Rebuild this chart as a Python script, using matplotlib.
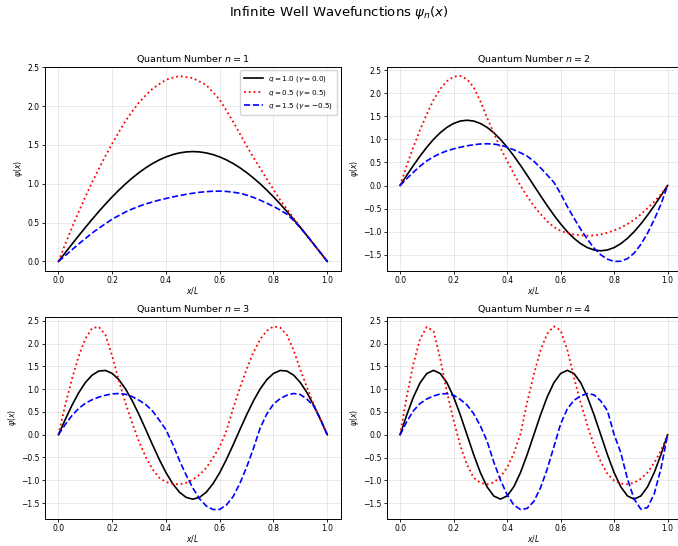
import numpy as np
import matplotlib
matplotlib.use('Agg')
import matplotlib.pyplot as plt

# sample positions along the well (x/L)
x_grid = np.linspace(0.0, 1.0, 41)

quantum_numbers = [1, 2, 3, 4]
legend_labels = [r'$q = 1.0$ ($\gamma = 0.0$)',
                 r'$q = 0.5$ ($\gamma = 0.5$)',
                 r'$q = 1.5$ ($\gamma = -0.5$)']

# q = 1.0 (undeformed)
black_n1 = [0, .1110, .2212, .3301, .4370, .5412, .6420, .7389, .8313, .9185, 1.0,
            1.0754, 1.1441, 1.2058, 1.2601, 1.3066, 1.3450, 1.3751, 1.3968, 1.4099, 1.4142,
            1.4099, 1.3968, 1.3751, 1.3450, 1.3066, 1.2601, 1.2058, 1.1441, 1.0754, 1.0,
            .9185, .8313, .7389, .6420, .5412, .4370, .3301, .2212, .1110, 0]
black_n2 = [0, .2212, .4370, .6420, .8313, 1.0, 1.1441, 1.2601, 1.3450, 1.3968, 1.4142,
            1.3968, 1.3450, 1.2601, 1.1441, 1.0, .8313, .6420, .4370, .2212, 0,
            -.2212, -.4370, -.6420, -.8313, -1.0, -1.1441, -1.2601, -1.3450, -1.3968, -1.4142,
            -1.3968, -1.3450, -1.2601, -1.1441, -1.0, -.8313, -.6420, -.4370, -.2212, 0]
black_n3 = [0, .3301, .6420, .9185, 1.1441, 1.3066, 1.3968, 1.4099, 1.3450, 1.2058, 1.0,
            .7389, .4370, .1110, -.2212, -.5412, -.8313, -1.0754, -1.2601, -1.3751, -1.4142,
            -1.3751, -1.2601, -1.0754, -.8313, -.5412, -.2212, .1110, .4370, .7389, 1.0,
            1.2058, 1.3450, 1.4099, 1.3968, 1.3066, 1.1441, .9185, .6420, .3301, 0]
black_n4 = [0, .4370, .8313, 1.1441, 1.3450, 1.4142, 1.3450, 1.1441, .8313, .4370, 0,
            -.4370, -.8313, -1.1441, -1.3450, -1.4142, -1.3450, -1.1441, -.8313, -.4370, 0,
            .4370, .8313, 1.1441, 1.3450, 1.4142, 1.3450, 1.1441, .8313, .4370, 0,
            -.4370, -.8313, -1.1441, -1.3450, -1.4142, -1.3450, -1.1441, -.8313, -.4370, 0]

# q = 0.5 (gamma = 0.5)
red_n1 = [0, .221, .434, .637, .830, 1.017, 1.190, 1.359, 1.517, 1.667, 1.811,
          1.934, 2.048, 2.138, 2.223, 2.282, 2.339, 2.364, 2.387, 2.373, 2.360,
          2.315, 2.270, 2.177, 2.082, 1.942, 1.797, 1.643, 1.487, 1.340, 1.201,
          1.062, .925, .790, .673, .557, .441, .327, .215, .107, 0]
red_n2 = [0, .437, .840, 1.210, 1.548, 1.855, 2.091, 2.260, 2.359, 2.373, 2.304,
          2.128, 1.826, 1.470, 1.138, .814, .534, .258, -.005, -.235, -.443,
          -.619, -.775, -.901, -.981, -1.031, -1.063, -1.080, -1.088, -1.082, -1.060,
          -1.023, -.972, -.914, -.835, -.742, -.622, -.490, -.348, -.190, 0]
red_n3 = [0, .645, 1.216, 1.716, 2.105, 2.337, 2.368, 2.188, 1.725, 1.179, .684,
          .243, -.157, -.491, -.758, -.944, -1.039, -1.078, -1.090, -1.056, -.984,
          -.876, -.725, -.507, -.262, .086, .578, 1.030, 1.435, 1.801, 2.090,
          2.281, 2.377, 2.350, 2.188, 1.852, 1.425, 1.031, .661, .324, 0]
red_n4 = [0, .845, 1.564, 2.112, 2.369, 2.273, 1.669, .940, .313, -.237, -.658,
          -.944, -1.057, -1.089, -1.046, -.926, -.723, -.407, .014, .714, 1.328,
          1.857, 2.219, 2.380, 2.291, 1.867, 1.258, .698, .205, -.236, -.590,
          -.860, -1.009, -1.072, -1.089, -1.054, -.965, -.830, -.617, -.347, 0]

# q = 1.5 (gamma = -0.5)
blue_n1 = [0, .074, .150, .224, .294, .365, .427, .486, .545, .591, .638,
           .676, .710, .741, .765, .790, .810, .830, .847, .864, .878,
           .890, .898, .904, .905, .901, .891, .878, .854, .825, .789,
           .750, .708, .661, .608, .526, .434, .331, .222, .111, 0]
blue_n2 = [0, .149, .290, .421, .534, .623, .695, .751, .794, .830, .860,
           .883, .900, .905, .897, .875, .831, .774, .710, .635, .526,
           .384, .227, .068, -.175, -.456, -.707, -.947, -1.163, -1.357, -1.501,
           -1.596, -1.645, -1.641, -1.584, -1.464, -1.275, -1.033, -.738, -.406, 0]
blue_n3 = [0, .222, .419, .575, .690, .767, .824, .867, .896, .905, .886,
           .835, .755, .660, .519, .321, .107, -.204, -.565, -.884, -1.171,
           -1.407, -1.565, -1.642, -1.638, -1.541, -1.356, -1.068, -.713, -.308, .140,
           .455, .672, .792, .867, .905, .881, .777, .624, .339, 0]
blue_n4 = [0, .289, .528, .688, .786, .851, .895, .903, .867, .775, .655,
           .462, .195, -.140, -.597, -.992, -1.318, -1.541, -1.643, -1.619, -1.463,
           -1.163, -.753, -.263, .236, .568, .755, .853, .904, .876, .743,
           .529, .007, -.397, -.971, -1.413, -1.635, -1.599, -1.297, -.746, 0]

black_curves = [black_n1, black_n2, black_n3, black_n4]
red_curves = [red_n1, red_n2, red_n3, red_n4]
blue_curves = [blue_n1, blue_n2, blue_n3, blue_n4]

fig = plt.figure(figsize=(6.78, 5.46), dpi=100)
positions = [[0.0664, 0.5042, 0.4361, 0.3736],
             [0.5704, 0.5042, 0.4340, 0.3736],
             [0.0664, 0.0500, 0.4361, 0.3690],
             [0.5704, 0.0500, 0.4340, 0.3690]]

for i, n in enumerate(quantum_numbers):
    ax = fig.add_axes(positions[i])
    ax.plot(x_grid, black_curves[i], color='black', ls='-', lw=1.2,
            label=legend_labels[0])
    ax.plot(x_grid, red_curves[i], color='red', ls=':', lw=1.3,
            label=legend_labels[1])
    ax.plot(x_grid, blue_curves[i], color='blue', ls='--', lw=1.2,
            label=legend_labels[2])
    ax.set_title(r'Quantum Number $n = %d$' % n, fontsize=6.8, pad=3.5)
    ax.set_xlabel(r'$x/L$', fontsize=5.5, labelpad=0)
    ax.set_ylabel(r'$\psi(x)$', fontsize=5.5, labelpad=1.5)
    ax.tick_params(labelsize=5.5, length=2.5, width=0.6, pad=1.5)
    ax.grid(True, alpha=0.3, lw=0.6)
    for sp in ax.spines.values():
        sp.set_linewidth(0.7)
    if i == 0:
        ax.legend(loc='upper right', fontsize=5.2, handlelength=2.6,
                  borderpad=0.5, labelspacing=0.5)

fig.suptitle(r'Infinite Well Wavefunctions $\psi_n(x)$', fontsize=9.5, y=0.978,
             va='center')
fig.savefig('out.png', dpi=100)
